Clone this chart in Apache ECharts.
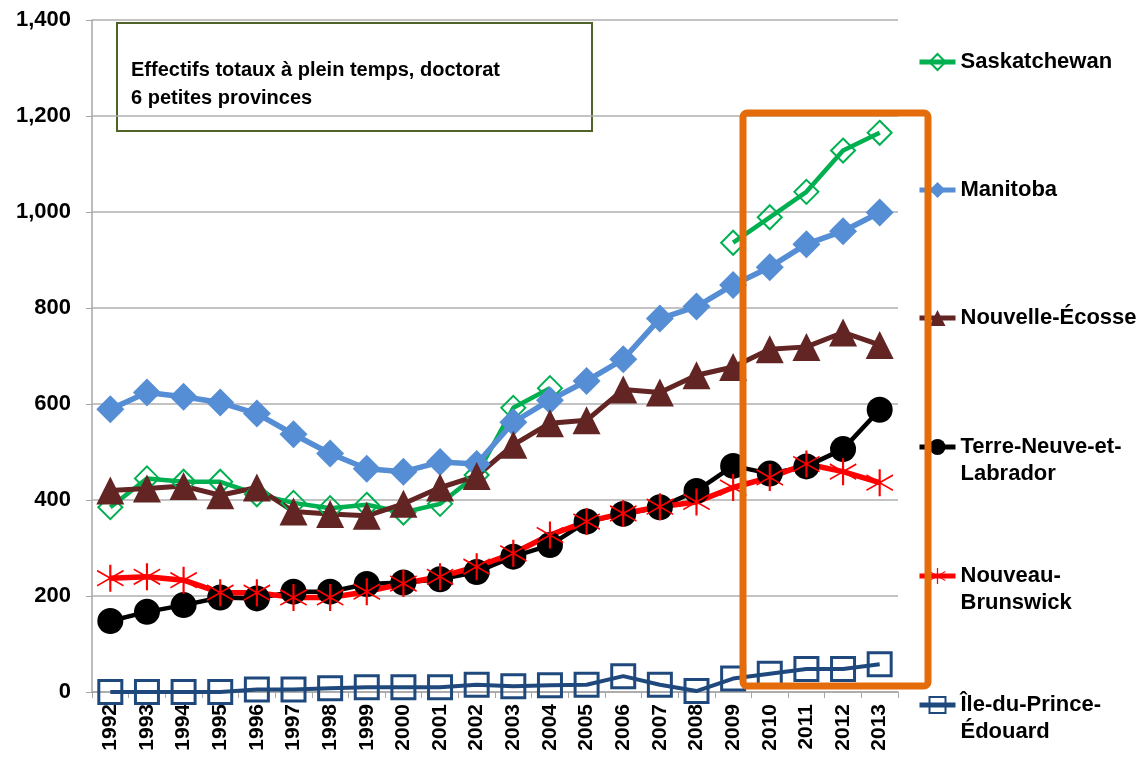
<!DOCTYPE html>
<html>
<head>
<meta charset="utf-8">
<title>Effectifs totaux à plein temps, doctorat</title>
<script src="https://cdn.jsdelivr.net/npm/echarts@6/dist/echarts.min.js"></script>
</head>
<body style="margin:0;background:#fff">
<div id="main" style="width:1148px;height:758px;"></div>
<script type="text/javascript">
var years = ['1992', '1993', '1994', '1995', '1996', '1997', '1998', '1999', '2000', '2001', '2002',
             '2003', '2004', '2005', '2006', '2007', '2008', '2009', '2010', '2011', '2012', '2013'];
var yTicks = [0, 200, 400, 600, 800, 1000, 1200, 1400];

var saskatchewan     = [385, 445, 438, 438, 412, 394, 383, 390, 374, 392, 452, 592, 633, null, null, null, null, 936, 989, 1042, 1128, 1165];
var manitoba         = [589, 624, 615, 603, 580, 537, 497, 465, 459, 479, 475, 562, 608, 648, 693, 778, 803, 848, 885, 933, 960, 999];
var nouvelleEcosse   = [420, 424, 429, 410, 426, 376, 371, 367, 392, 426, 450, 515, 560, 566, 630, 624, 660, 677, 714, 719, 749, 723];
var terreNeuve       = [148, 167, 181, 197, 195, 209, 209, 225, 228, 235, 250, 282, 306, 355, 371, 385, 419, 471, 455, 470, 506, 588];
var nouveauBrunswick = [237, 240, 233, 207, 207, 197, 197, 209, 226, 240, 261, 289, 327, 355, 372, 386, 396, 426, 447, 475, 459, 436];
var ilePE            = [0, 0, 0, 0, 5, 5, 8, 10, 10, 10, 15, 12, 14, 15, 33, 15, 2, 28, 38, 48, 48, 58];

var names = ['Saskatchewan', 'Manitoba', 'Nouvelle-Écosse', 'Terre-Neuve-et-Labrador', 'Nouveau-Brunswick', 'Île-du-Prince-Édouard'];
// texte affiché dans la légende (ligne vide au début = icône alignée sur la 1re ligne)
var legendText = {
    'Saskatchewan': 'Saskatchewan',
    'Manitoba': 'Manitoba',
    'Nouvelle-Écosse': 'Nouvelle-Écosse',
    'Terre-Neuve-et-Labrador': '\nTerre-Neuve-et-\nLabrador',
    'Nouveau-Brunswick': '\nNouveau-\nBrunswick',
    'Île-du-Prince-Édouard': '\nÎle-du-Prince-\nÉdouard'
};
var legendY = [62, 190, 318, 447, 576, 705];

var FONT = '"Liberation Sans", Arial, sans-serif';
var asterisk = 'path://M2,19L100,75L98,81L0,25Z M0,75L98,19L100,25L2,81Z M46,0L54,0L54,100L46,100Z';

var myChart = echarts.init(document.getElementById('main'));

var legends = names.map(function (n, i) {
    var lines = legendText[n].split('\n').length;
    return {
        data: [n],
        orient: 'vertical',
        left: 917,
        top: legendY[i] - lines * 27 / 2,
        padding: 0,
        itemWidth: 36,
        itemHeight: 20,
        lineStyle: { width: 5 },
        formatter: function (name) { return legendText[name]; },
        textStyle: { fontFamily: FONT, fontWeight: 'bold', fontSize: 22, color: '#000', lineHeight: 27 }
    };
});

myChart.setOption({
    animation: false,
    backgroundColor: '#fff',
    grid: { left: 92, right: 250, top: 20, bottom: 66 },
    legend: legends,
    xAxis: {
        type: 'category',
        data: years,
        boundaryGap: true,
        axisLine: { lineStyle: { color: '#A6A6A6', width: 1.5 } },
        axisTick: { show: true, length: 6, lineStyle: { color: '#A6A6A6' } },
        axisLabel: { interval: 0, rotate: 90, margin: 12, fontFamily: FONT, fontWeight: 'bold', fontSize: 21, color: '#000' }
    },
    yAxis: {
        type: 'value',
        min: yTicks[0],
        max: yTicks[yTicks.length - 1],
        interval: 200,
        axisLine: { show: true, lineStyle: { color: '#A6A6A6', width: 1.5 } },
        axisTick: { show: true, length: 6, lineStyle: { color: '#A6A6A6' } },
        splitLine: { lineStyle: { color: '#AFAFAF', width: 1.5 } },
        axisLabel: {
            margin: 21,
            fontFamily: FONT, fontWeight: 'bold', fontSize: 22, color: '#000',
            formatter: function (v) { return v.toLocaleString('en-US'); }
        }
    },
    series: [
        {
            name: 'Saskatchewan', type: 'line', data: saskatchewan, connectNulls: false,
            symbol: 'diamond', symbolSize: 24,
            lineStyle: { color: '#00B050', width: 4.5 },
            itemStyle: { color: 'transparent', borderColor: '#00B050', borderWidth: 2 }
        },
        {
            name: 'Manitoba', type: 'line', data: manitoba,
            symbol: 'diamond', symbolSize: 28,
            lineStyle: { color: '#558ED5', width: 5.5 },
            itemStyle: { color: '#558ED5' }
        },
        {
            name: 'Nouvelle-Écosse', type: 'line', data: nouvelleEcosse,
            symbol: 'triangle', symbolSize: 28,
            lineStyle: { color: '#632523', width: 5 },
            itemStyle: { color: '#632523' }
        },
        {
            name: 'Terre-Neuve-et-Labrador', type: 'line', data: terreNeuve,
            symbol: 'circle', symbolSize: 26,
            lineStyle: { color: '#000000', width: 4.5 },
            itemStyle: { color: '#000000' }
        },
        {
            name: 'Nouveau-Brunswick', type: 'line', data: nouveauBrunswick,
            symbol: asterisk, symbolSize: 27,
            lineStyle: { color: '#FF0000', width: 5.5 },
            itemStyle: { color: '#FF0000' }
        },
        {
            name: 'Île-du-Prince-Édouard', type: 'line', data: ilePE,
            symbol: 'rect', symbolSize: 23,
            lineStyle: { color: '#1F497D', width: 4 },
            itemStyle: { color: 'transparent', borderColor: '#1F497D', borderWidth: 3 }
        }
    ],
    graphic: [
        {
            type: 'group', left: 116, top: 22, z: 50,
            children: [
                { type: 'rect', shape: { x: 0, y: 0, width: 475, height: 108 },
                  style: { fill: '#fff', stroke: '#4F6228', lineWidth: 2 } },
                { type: 'text', x: 14, y: 33,
                  style: { text: 'Effectifs totaux à plein temps, doctorat\n6 petites provinces',
                           font: 'bold 20px ' + FONT, fill: '#000', lineHeight: 28 } }
            ]
        },
        {
            type: 'rect', z: 60,
            shape: { x: 743, y: 113, width: 185, height: 573, r: 4 },
            style: { fill: 'none', stroke: '#E46C0A', lineWidth: 7 }
        }
    ]
});
</script>
</body>
</html>
